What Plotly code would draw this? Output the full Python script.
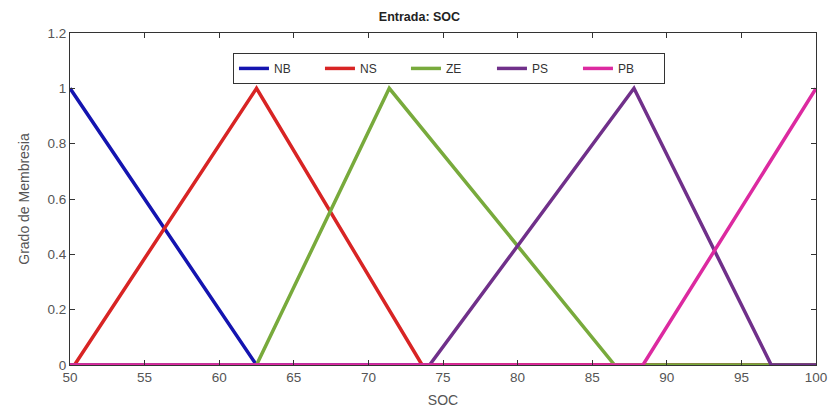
import plotly.graph_objects as go

# Membership functions of the input "SOC" (breakpoints over the universe 50..100)
soc_range = [50, 100]
names = ["NB", "NS", "ZE", "PS", "PB"]
nb_x = [50, 62.5, 100]
nb_y = [1, 0, 0]
ns_x = [50, 50.3, 62.5, 73.6, 100]
ns_y = [0, 0, 1, 0, 0]
ze_x = [50, 62.5, 71.4, 86.5, 100]
ze_y = [0, 0, 1, 0, 0]
ps_x = [50, 74.1, 87.8, 97.0, 100]
ps_y = [0, 0, 1, 0, 0]
pb_x = [50, 88.4, 100]
pb_y = [0, 0, 1]
colors = ["#1414b0", "#d82424", "#78aa3c", "#70308a", "#dc2aa0"]

x_ticks = [50, 55, 60, 65, 70, 75, 80, 85, 90, 95, 100]
y_ticks = [0, 0.2, 0.4, 0.6, 0.8, 1, 1.2]

series = [(nb_x, nb_y), (ns_x, ns_y), (ze_x, ze_y), (ps_x, ps_y), (pb_x, pb_y)]

fig = go.Figure()
for name, (xs, ys), c in zip(names, series, colors):
    fig.add_trace(go.Scatter(x=xs, y=ys, mode="lines", name=name,
                             line=dict(color=c, width=3.5)))

font = "Arial, Liberation Sans, Helvetica, sans-serif"
fig.update_layout(
    width=839, height=417,
    margin=dict(l=70, r=17, t=33, b=52),
    paper_bgcolor="white", plot_bgcolor="white",
    font=dict(family=font, size=12, color="#555555"),
    title=dict(text="<b>Entrada: SOC</b>", x=0.5, xanchor="center",
               y=0.97, yanchor="top", font=dict(size=12.5, color="#222222")),
    showlegend=True,
    legend=dict(orientation="h", x=0.508, xanchor="center", y=0.94, yanchor="top",
                bgcolor="white", bordercolor="#333333", borderwidth=1,
                font=dict(size=12, color="#333333"), itemwidth=30,
                entrywidth=41, tracegroupgap=0),
)
fig.update_xaxes(range=soc_range, tickvals=x_ticks, ticks="inside", ticklen=5,
                 tickcolor="#333333", showline=True, linecolor="#333333",
                 linewidth=1, mirror="ticks", showgrid=False, zeroline=False,
                 title=dict(text="SOC", standoff=10, font=dict(size=14)),
                 tickfont=dict(size=13.5))
fig.update_yaxes(range=[0, 1.2], tickvals=y_ticks,
                 ticktext=["0", "0.2", "0.4", "0.6", "0.8", "1", "1.2"],
                 ticks="inside", ticklen=5, tickcolor="#333333", showline=True,
                 linecolor="#333333", linewidth=1, mirror="ticks",
                 showgrid=False, zeroline=False,
                 title=dict(text="Grado de Membresia", standoff=14, font=dict(size=14)),
                 tickfont=dict(size=13.5))

fig.write_html("out.html")
